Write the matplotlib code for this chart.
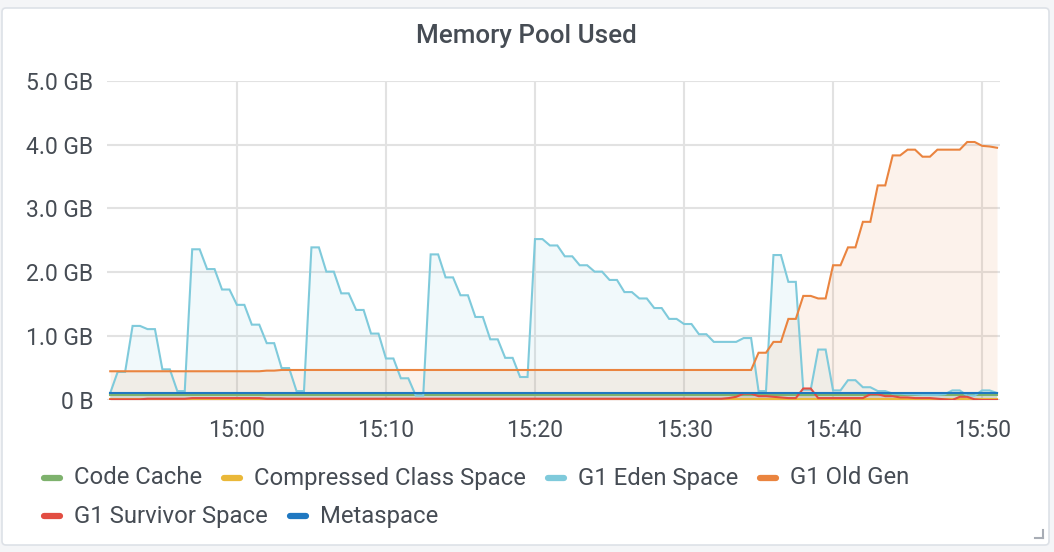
import numpy as np
import matplotlib
matplotlib.use("Agg")
import matplotlib.pyplot as plt
import matplotlib.dates as mdates
from matplotlib.patches import FancyBboxPatch
from matplotlib.lines import Line2D
from matplotlib.ticker import FuncFormatter

plt.rcParams['font.family'] = ['Roboto', 'DejaVu Sans']

# ---------------- data ----------------
title = "Memory Pool Used"
series_names = ["Code Cache", "Compressed Class Space", "G1 Eden Space",
                "G1 Old Gen", "G1 Survivor Space", "Metaspace"]
series_colors = ["#7EB26D", "#EAB839", "#7fcadb", "#EA843F", "#E24D42", "#1F78C1"]
start_time = "2021-06-01T14:51:30"   # first sample
sample_seconds = 30                   # sampling interval
x_range = ("2021-06-01T14:51:17", "2021-06-01T15:51:12")
y_ticks_gb = [0, 1, 2, 3, 4, 5]

# values in GB, one per 30 s sample
code_cache = [
    0.08, 0.08, 0.08, 0.08, 0.08, 0.08, 0.08, 0.08, 0.08, 0.08,
    0.08, 0.08, 0.08, 0.08, 0.08, 0.08, 0.08, 0.08, 0.08, 0.08,
    0.08, 0.08, 0.08, 0.08, 0.08, 0.08, 0.08, 0.08, 0.08, 0.08,
    0.08, 0.08, 0.08, 0.08, 0.08, 0.08, 0.08, 0.08, 0.08, 0.08,
    0.08, 0.08, 0.08, 0.08, 0.08, 0.08, 0.08, 0.08, 0.08, 0.08,
    0.08, 0.08, 0.08, 0.08, 0.08, 0.08, 0.08, 0.08, 0.08, 0.08,
    0.08, 0.08, 0.08, 0.08, 0.08, 0.08, 0.08, 0.08, 0.08, 0.08,
    0.08, 0.08, 0.08, 0.08, 0.08, 0.08, 0.08, 0.08, 0.08, 0.08,
    0.08, 0.08, 0.08, 0.08, 0.08, 0.08, 0.08, 0.08, 0.08, 0.08,
    0.08, 0.08, 0.08, 0.08, 0.08, 0.08, 0.08, 0.08, 0.08, 0.08,
    0.08, 0.08, 0.08, 0.08, 0.08, 0.08, 0.08, 0.08, 0.08, 0.08,
    0.08, 0.08, 0.08, 0.08, 0.08, 0.08, 0.08, 0.08, 0.08, 0.08,
]
compressed_class = [
    0.02, 0.02, 0.02, 0.02, 0.02, 0.02, 0.02, 0.02, 0.02, 0.02,
    0.02, 0.02, 0.02, 0.02, 0.02, 0.02, 0.02, 0.02, 0.02, 0.02,
    0.02, 0.02, 0.02, 0.02, 0.02, 0.02, 0.02, 0.02, 0.02, 0.02,
    0.02, 0.02, 0.02, 0.02, 0.02, 0.02, 0.02, 0.02, 0.02, 0.02,
    0.02, 0.02, 0.02, 0.02, 0.02, 0.02, 0.02, 0.02, 0.02, 0.02,
    0.02, 0.02, 0.02, 0.02, 0.02, 0.02, 0.02, 0.02, 0.02, 0.02,
    0.02, 0.02, 0.02, 0.02, 0.02, 0.02, 0.02, 0.02, 0.02, 0.02,
    0.02, 0.02, 0.02, 0.02, 0.02, 0.02, 0.02, 0.02, 0.02, 0.02,
    0.02, 0.02, 0.02, 0.02, 0.02, 0.02, 0.02, 0.02, 0.02, 0.02,
    0.02, 0.02, 0.02, 0.02, 0.02, 0.02, 0.02, 0.02, 0.02, 0.02,
    0.02, 0.02, 0.02, 0.02, 0.02, 0.02, 0.02, 0.02, 0.02, 0.02,
    0.02, 0.02, 0.02, 0.02, 0.02, 0.02, 0.02, 0.02, 0.02, 0.02,
]
g1_eden = [
    0.11, 0.44, 0.44, 1.16, 1.16, 1.11, 1.11, 0.48, 0.48, 0.14,
    0.14, 2.36, 2.36, 2.05, 2.05, 1.73, 1.73, 1.49, 1.49, 1.18,
    1.18, 0.89, 0.89, 0.50, 0.50, 0.14, 0.14, 2.39, 2.39, 2.01,
    2.01, 1.67, 1.67, 1.41, 1.41, 1.04, 1.04, 0.65, 0.65, 0.34,
    0.34, 0.07, 0.07, 2.28, 2.28, 1.92, 1.92, 1.64, 1.64, 1.30,
    1.30, 0.95, 0.95, 0.66, 0.66, 0.36, 0.36, 2.52, 2.52, 2.42,
    2.42, 2.25, 2.25, 2.11, 2.11, 2.01, 2.01, 1.88, 1.88, 1.69,
    1.69, 1.59, 1.59, 1.44, 1.44, 1.27, 1.27, 1.19, 1.19, 1.03,
    1.03, 0.91, 0.91, 0.91, 0.91, 0.97, 0.97, 0.14, 0.14, 2.27,
    2.27, 1.85, 1.85, 0.16, 0.16, 0.79, 0.79, 0.15, 0.15, 0.31,
    0.31, 0.20, 0.20, 0.14, 0.14, 0.10, 0.10, 0.09, 0.09, 0.08,
    0.08, 0.08, 0.09, 0.15, 0.15, 0.07, 0.07, 0.15, 0.15, 0.11,
]
g1_old_gen = [
    0.45, 0.45, 0.45, 0.45, 0.45, 0.45, 0.45, 0.45, 0.45, 0.45,
    0.45, 0.45, 0.45, 0.45, 0.45, 0.45, 0.45, 0.45, 0.45, 0.45,
    0.45, 0.46, 0.46, 0.47, 0.47, 0.47, 0.47, 0.47, 0.47, 0.47,
    0.47, 0.47, 0.47, 0.47, 0.47, 0.47, 0.47, 0.47, 0.47, 0.47,
    0.47, 0.47, 0.47, 0.47, 0.47, 0.47, 0.47, 0.47, 0.47, 0.47,
    0.47, 0.47, 0.47, 0.47, 0.47, 0.47, 0.47, 0.47, 0.47, 0.47,
    0.47, 0.47, 0.47, 0.47, 0.47, 0.47, 0.47, 0.47, 0.47, 0.47,
    0.47, 0.47, 0.47, 0.47, 0.47, 0.47, 0.47, 0.47, 0.47, 0.47,
    0.47, 0.47, 0.47, 0.47, 0.47, 0.47, 0.47, 0.74, 0.74, 0.91,
    0.91, 1.27, 1.27, 1.63, 1.63, 1.59, 1.59, 2.11, 2.11, 2.39,
    2.39, 2.79, 2.79, 3.36, 3.36, 3.83, 3.83, 3.92, 3.92, 3.81,
    3.81, 3.92, 3.92, 3.92, 3.92, 4.04, 4.04, 3.98, 3.97, 3.95,
]
g1_survivor = [
    0.01, 0.01, 0.01, 0.01, 0.01, 0.02, 0.02, 0.02, 0.02, 0.02,
    0.02, 0.03, 0.03, 0.03, 0.03, 0.03, 0.03, 0.03, 0.03, 0.03,
    0.03, 0.02, 0.02, 0.02, 0.02, 0.02, 0.02, 0.02, 0.02, 0.02,
    0.02, 0.02, 0.02, 0.02, 0.02, 0.02, 0.02, 0.02, 0.02, 0.02,
    0.02, 0.02, 0.02, 0.02, 0.02, 0.02, 0.02, 0.02, 0.02, 0.02,
    0.02, 0.02, 0.02, 0.02, 0.02, 0.02, 0.02, 0.02, 0.02, 0.02,
    0.02, 0.02, 0.02, 0.02, 0.02, 0.02, 0.02, 0.02, 0.02, 0.02,
    0.02, 0.02, 0.02, 0.02, 0.02, 0.02, 0.02, 0.02, 0.02, 0.02,
    0.02, 0.02, 0.02, 0.03, 0.05, 0.10, 0.10, 0.06, 0.06, 0.05,
    0.04, 0.03, 0.03, 0.18, 0.18, 0.03, 0.03, 0.03, 0.03, 0.03,
    0.03, 0.03, 0.09, 0.09, 0.06, 0.06, 0.04, 0.04, 0.03, 0.03,
    0.03, 0.02, 0.01, 0.00, 0.05, 0.05, 0.01, 0.00, 0.00, 0.00,
]
metaspace = [
    0.115, 0.115, 0.115, 0.115, 0.115, 0.115, 0.115, 0.115, 0.115, 0.115,
    0.115, 0.115, 0.115, 0.115, 0.115, 0.115, 0.115, 0.115, 0.115, 0.115,
    0.115, 0.115, 0.115, 0.115, 0.115, 0.115, 0.115, 0.115, 0.115, 0.115,
    0.115, 0.115, 0.115, 0.115, 0.115, 0.115, 0.115, 0.115, 0.115, 0.115,
    0.115, 0.115, 0.115, 0.115, 0.115, 0.115, 0.115, 0.115, 0.115, 0.115,
    0.115, 0.115, 0.115, 0.115, 0.115, 0.115, 0.115, 0.115, 0.115, 0.115,
    0.115, 0.115, 0.115, 0.115, 0.115, 0.115, 0.115, 0.115, 0.115, 0.115,
    0.115, 0.115, 0.115, 0.115, 0.115, 0.115, 0.115, 0.115, 0.115, 0.115,
    0.115, 0.115, 0.115, 0.115, 0.115, 0.115, 0.115, 0.115, 0.115, 0.115,
    0.115, 0.115, 0.115, 0.115, 0.115, 0.115, 0.115, 0.115, 0.115, 0.115,
    0.115, 0.115, 0.115, 0.115, 0.115, 0.115, 0.115, 0.115, 0.115, 0.115,
    0.115, 0.115, 0.115, 0.115, 0.115, 0.115, 0.115, 0.115, 0.115, 0.115,
]
series_values = [code_cache, compressed_class, g1_eden, g1_old_gen,
                 g1_survivor, metaspace]

# ---------------- figure ----------------
W, H = 1054, 552
TEXT = "#464c54"
fig = plt.figure(figsize=(W / 100, H / 100), dpi=100)
fig.patch.set_facecolor("#f4f5f7")

# panel card (pixel coordinates via inches transform)
panel = FancyBboxPatch((2 / 100, (H - 545) / 100), (1049 - 2) / 100, (545 - 8) / 100,
                       boxstyle="round,pad=0,rounding_size=0.04",
                       transform=fig.dpi_scale_trans, facecolor="white",
                       edgecolor="#dde1e7", linewidth=1.2, zorder=0)
fig.add_artist(panel)

ax = fig.add_axes([107 / W, 1 - 400 / H, (1000 - 107) / W, (400 - 80.7) / H])
ax.set_facecolor("none")

times = np.datetime64(start_time) + np.arange(len(g1_eden)) * np.timedelta64(sample_seconds, "s")

for name, vals, col in zip(series_names, series_values, series_colors):
    v = np.asarray(vals)
    ax.fill_between(times, v, 0, color=col, alpha=0.1, linewidth=0)
    ax.plot(times, v, color=col, linewidth=1.5, label=name, solid_joinstyle="miter")

ax.set_xlim(np.datetime64(x_range[0]), np.datetime64(x_range[1]))
ax.set_ylim(0, 5)
ax.set_yticks(y_ticks_gb)
ax.yaxis.set_major_formatter(FuncFormatter(lambda v, p: "0 B" if v == 0 else f"{v:.1f} GB"))
ax.xaxis.set_major_locator(mdates.MinuteLocator(byminute=range(0, 60, 10)))
ax.xaxis.set_major_formatter(mdates.DateFormatter("%H:%M"))

ax.grid(True, color="#e2e2e2", linewidth=1.5)
ax.set_axisbelow(True)
for s in ax.spines.values():
    s.set_visible(False)
ax.tick_params(axis="both", length=0, labelsize=16.5, labelcolor=TEXT)
ax.tick_params(axis="y", pad=10)
ax.tick_params(axis="x", pad=14)

fig.text(0.4995, 1 - 36 / H, title, ha="center", va="center", fontsize=18.7,
         fontweight="medium", color=TEXT)

# legend (flow layout in pixel units)
fig.canvas.draw()
renderer = fig.canvas.get_renderer()
rows = [[0, 1, 2, 3], [4, 5]]
row_y = [478, 516]
for row, ypx in zip(rows, row_y):
    xpx = 42
    for i in row:
        yf = 1 - ypx / H
        fig.add_artist(Line2D([(xpx + 2) / W, (xpx + 18) / W], [yf, yf], color=series_colors[i],
                              linewidth=4.5, solid_capstyle="round", transform=fig.transFigure))
        t = fig.text((xpx + 32) / W, yf, series_names[i], ha="left", va="center",
                     fontsize=17.2, color=TEXT)
        bb = t.get_window_extent(renderer)
        xpx = bb.x1 + 20

# resize handle glyph
hc = "#a8adb5"
fig.add_artist(Line2D([1043 / W, 1043 / W], [1 - 530 / H, 1 - 538 / H], color=hc, lw=1.5))
fig.add_artist(Line2D([1035 / W, 1043 / W], [1 - 538 / H, 1 - 538 / H], color=hc, lw=1.5))

fig.savefig("out.png", dpi=100, facecolor=fig.get_facecolor())
